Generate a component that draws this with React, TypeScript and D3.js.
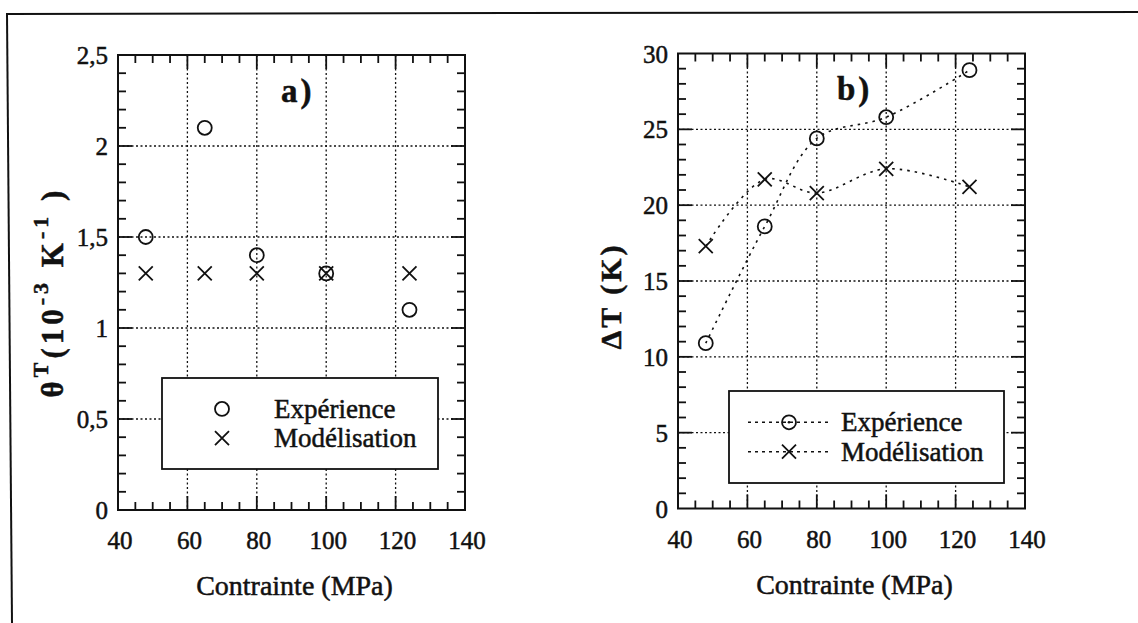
import React from "react";
import * as d3 from "d3";

const stress = [48, 65, 80, 100, 124];
const thetaExp = [1.5, 2.1, 1.4, 1.3, 1.1];
const thetaMod = [1.3, 1.3, 1.3, 1.3, 1.3];
const dTExp = [10.9, 18.6, 24.4, 25.8, 28.9];
const dTMod = [17.3, 21.7, 20.8, 22.4, 21.2];

const xTicks = [40, 60, 80, 100, 120, 140];
const yTicksA = [0, 0.5, 1, 1.5, 2, 2.5];
const yTicksB = [0, 5, 10, 15, 20, 25, 30];
const seriesNames = ["Expérience", "Modélisation"];
const xTitle = "Contrainte (MPa)";

const FONT = "'Liberation Serif', 'Times New Roman', serif";
const GRID_DASH = "2,2.5";
const CURVE_DASH = "2.5,5";
// scanned print looks heavier than the plain font, so outline text a bit
const INK = { fill: "#111", stroke: "#111", strokeWidth: 0.5 };

type Box = { left: number; right: number; top: number; bottom: number };
type LegendBox = { x: number; y: number; w: number; h: number };

const fmt = (v: number) => String(v).replace(".", ",");

const Circle = ({ x, y }: { x: number; y: number }) => (
  <circle cx={x} cy={y} r={7} fill="none" stroke="#111" strokeWidth={1.8} />
);

const Cross = ({ x, y }: { x: number; y: number }) => (
  <path
    d={`M${x - 7},${y - 7}L${x + 7},${y + 7}M${x - 7},${y + 7}L${x + 7},${y - 7}`}
    stroke="#111"
    strokeWidth={1.8}
  />
);

type PanelProps = {
  box: Box;
  yMax: number;
  yTicks: number[];
  yMinor: number;
  title: string;
  titlePos: [number, number];
  yLabel: React.ReactNode;
  exp: number[];
  mod: number[];
  lines: boolean;
  legend: LegendBox;
};

const Panel = ({ box, yMax, yTicks, yMinor, title, titlePos, yLabel, exp, mod, lines, legend }: PanelProps) => {
  const x = d3.scaleLinear().domain([40, 140]).range([box.left, box.right]);
  const y = d3.scaleLinear().domain([0, yMax]).range([box.bottom, box.top]);

  const xMinor = d3.range(40, 140.001, 5).filter((v) => !xTicks.includes(v));
  const yMinorTicks = d3
    .range(0, yMax + 1e-6, yMinor)
    .map((v) => +v.toFixed(3))
    .filter((v) => !yTicks.some((t) => Math.abs(t - v) < 1e-6));

  const line = d3
    .line<number>()
    .x((_, i) => x(stress[i]))
    .y((d) => y(d))
    .curve(d3.curveCatmullRom.alpha(0.5));

  const ml = 8;
  const mj = 14;
  const lg = legend;
  const row1 = lg.y + lg.h * 0.34;
  const row2 = lg.y + lg.h * 0.66;
  const markX = lg.x + 60;
  const textX = lg.x + 112;

  return (
    <g>
      {/* grid */}
      {xTicks.slice(1, -1).map((t) => (
        <line key={"gx" + t} x1={x(t)} x2={x(t)} y1={box.top} y2={box.bottom}
          stroke="#111" strokeWidth={1.3} strokeDasharray={GRID_DASH} />
      ))}
      {yTicks.slice(1, -1).map((t) => (
        <line key={"gy" + t} x1={box.left} x2={box.right} y1={y(t)} y2={y(t)}
          stroke="#111" strokeWidth={1.3} strokeDasharray={GRID_DASH} />
      ))}
      {/* minor ticks on all sides */}
      {xMinor.map((t) => (
        <g key={"mx" + t} stroke="#111" strokeWidth={1.8}>
          <line x1={x(t)} x2={x(t)} y1={box.bottom} y2={box.bottom - ml} />
          <line x1={x(t)} x2={x(t)} y1={box.top} y2={box.top + ml} />
        </g>
      ))}
      {yMinorTicks.map((t) => (
        <g key={"my" + t} stroke="#111" strokeWidth={1.8}>
          <line x1={box.left} x2={box.left + ml} y1={y(t)} y2={y(t)} />
          <line x1={box.right} x2={box.right - ml} y1={y(t)} y2={y(t)} />
        </g>
      ))}
      {xTicks.slice(1, -1).map((t) => (
        <g key={"Mx" + t} stroke="#111" strokeWidth={1.8}>
          <line x1={x(t)} x2={x(t)} y1={box.bottom} y2={box.bottom - mj} />
          <line x1={x(t)} x2={x(t)} y1={box.top} y2={box.top + mj} />
        </g>
      ))}
      {yTicks.slice(1, -1).map((t) => (
        <g key={"My" + t} stroke="#111" strokeWidth={1.8}>
          <line x1={box.left} x2={box.left + mj} y1={y(t)} y2={y(t)} />
          <line x1={box.right} x2={box.right - mj} y1={y(t)} y2={y(t)} />
        </g>
      ))}
      {/* curves */}
      {lines && (
        <g fill="none" stroke="#111" strokeWidth={1.6} strokeDasharray={CURVE_DASH}>
          <path d={line(exp) || ""} />
          <path d={line(mod) || ""} />
        </g>
      )}
      {/* markers */}
      {exp.map((v, i) => <Circle key={"c" + i} x={x(stress[i])} y={y(v)} />)}
      {mod.map((v, i) => <Cross key={"x" + i} x={x(stress[i])} y={y(v)} />)}
      {/* frame */}
      <rect x={box.left} y={box.top} width={box.right - box.left} height={box.bottom - box.top}
        fill="none" stroke="#111" strokeWidth={2} />
      {/* tick labels */}
      {xTicks.map((t) => (
        <text key={"lx" + t} x={x(t) + 2} y={box.bottom + 39} textAnchor="middle"
          fontSize={25} fontFamily={FONT} {...INK}>{t}</text>
      ))}
      {yTicks.map((t) => (
        <text key={"ly" + t} x={box.left - 10} y={y(t) + 9} textAnchor="end"
          fontSize={25} fontFamily={FONT} {...INK}>{fmt(t)}</text>
      ))}
      <text x={(box.left + box.right) / 2 + 3} y={box.bottom + 85} textAnchor="middle"
        fontSize={28} fontFamily={FONT} {...INK}>{xTitle}</text>
      {yLabel}
      <text x={titlePos[0]} y={titlePos[1]} fontSize={33} fontWeight="bold" fontFamily={FONT}
        {...INK} letterSpacing={3}>{title}</text>
      {/* legend */}
      <rect x={lg.x} y={lg.y} width={lg.w} height={lg.h} fill="#fff" stroke="#111" strokeWidth={1.8} />
      {lines && (
        <g stroke="#111" strokeWidth={1.4} strokeDasharray="3,4">
          <line x1={lg.x + 19} x2={lg.x + 101} y1={row1} y2={row1} />
          <line x1={lg.x + 19} x2={lg.x + 101} y1={row2} y2={row2} />
        </g>
      )}
      <Circle x={markX} y={row1} />
      {lines && <circle cx={markX} cy={row1} r={1.3} fill="#111" />}
      <Cross x={markX} y={row2} />
      <text x={textX} y={row1 + 9} fontSize={27} fontFamily={FONT} {...INK}>{seriesNames[0]}</text>
      <text x={textX} y={row2 + 9} fontSize={27} fontFamily={FONT} {...INK}>{seriesNames[1]}</text>
    </g>
  );
};

export default function App() {
  const boxA: Box = { left: 118, right: 465, top: 55, bottom: 510 };
  const boxB: Box = { left: 678, right: 1025, top: 53.5, bottom: 508.5 };

  const labelA = (
    <text transform="translate(63,292) rotate(-90)" textAnchor="middle" fontSize={31}
      fontWeight="bold" fontFamily={FONT} {...INK} letterSpacing={4}>
      θ<tspan fontSize={22} dy={-15}>T</tspan>
      <tspan dy={15}>(10</tspan>
      <tspan fontSize={22} dy={-15}>-3</tspan>
      <tspan dy={15}> K</tspan>
      <tspan fontSize={22} dy={-15}>-1</tspan>
      <tspan dy={15}> )</tspan>
    </text>
  );
  const labelB = (
    <text transform="translate(621,296) rotate(-90)" textAnchor="middle" fontSize={30}
      fontWeight="bold" fontFamily={FONT} {...INK} letterSpacing={3}>
      ΔT (K)
    </text>
  );

  return (
    <svg width={1138} height={623} style={{ position: "absolute", left: 0, top: 0, background: "#fff" }}>
      <rect width={1138} height={623} fill="#fff" />
      <line x1={6} x2={1138} y1={14} y2={12} stroke="#111" strokeWidth={2} />
      <line x1={7} x2={12} y1={14} y2={623} stroke="#111" strokeWidth={2} />
      <Panel box={boxA} yMax={2.5} yTicks={yTicksA} yMinor={0.1} title="a)" titlePos={[281, 102]}
        yLabel={labelA} exp={thetaExp} mod={thetaMod} lines={false}
        legend={{ x: 162, y: 378, w: 276, h: 91 }} />
      <Panel box={boxB} yMax={30} yTicks={yTicksB} yMinor={1} title="b)" titlePos={[837, 100]}
        yLabel={labelB} exp={dTExp} mod={dTMod} lines={true}
        legend={{ x: 729, y: 391, w: 275, h: 92 }} />
    </svg>
  );
}
